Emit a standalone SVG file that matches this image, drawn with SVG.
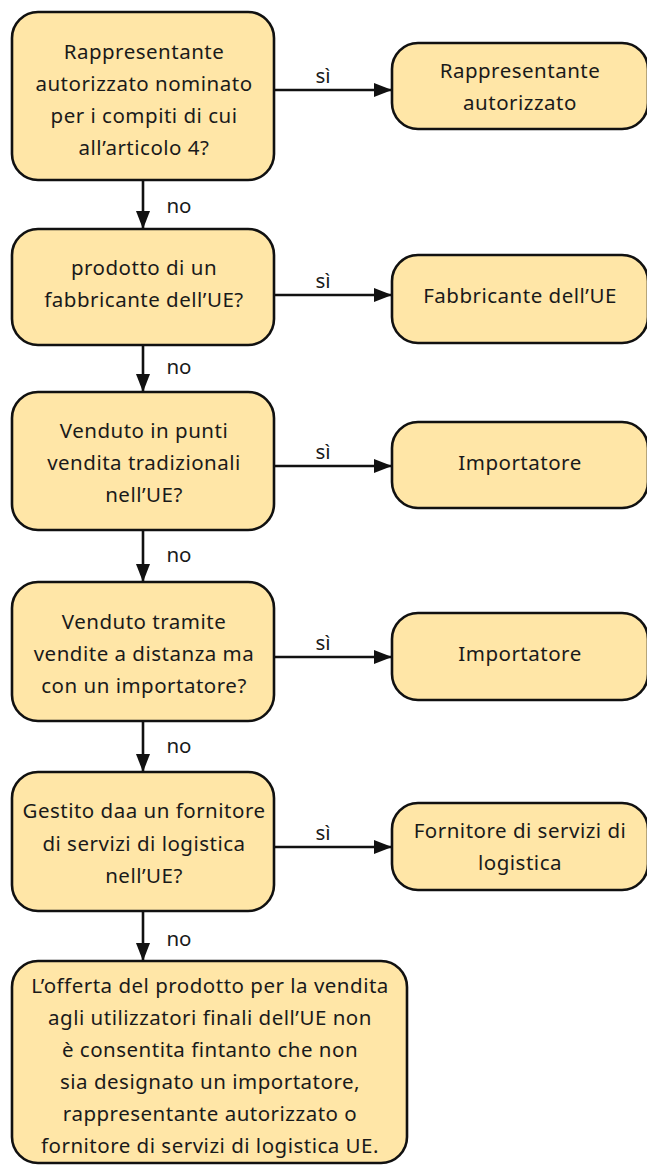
<svg xmlns="http://www.w3.org/2000/svg" width="647" height="1167" viewBox="0 0 647 1167">
<defs>
<style>
.box{fill:#FFE6A7;stroke:#111;stroke-width:2.6}
.t{font-family:"Noto Sans","DejaVu Sans",sans-serif;font-size:20.5px;fill:#1a1a1a;text-anchor:middle;letter-spacing:0.5px}
.lbl{font-family:"Noto Sans","DejaVu Sans",sans-serif;font-size:20.5px;fill:#1a1a1a;text-anchor:middle}
.c{stroke:#111;stroke-width:2.6;fill:none;marker-end:url(#ah)}
</style>
<marker id="ah" viewBox="0 0 18 14" refX="18" refY="7" markerWidth="18" markerHeight="14" markerUnits="userSpaceOnUse" orient="auto">
<path d="M0,0 L18,7 L0,14 Z" fill="#111"/>
</marker>
</defs>
<rect width="647" height="1167" fill="#fff"/>
<g id="connectors">
<line class="c" x1="274" y1="90" x2="392" y2="90"/>
<line class="c" x1="274" y1="295" x2="392" y2="295"/>
<line class="c" x1="274" y1="466" x2="392" y2="466"/>
<line class="c" x1="274" y1="657" x2="392" y2="657"/>
<line class="c" x1="274" y1="847" x2="392" y2="847"/>
<line class="c" x1="143" y1="180" x2="143" y2="229"/>
<line class="c" x1="143" y1="345" x2="143" y2="392"/>
<line class="c" x1="143" y1="530" x2="143" y2="582"/>
<line class="c" x1="143" y1="721" x2="143" y2="772"/>
<line class="c" x1="143" y1="911" x2="143" y2="961"/>
<text class="lbl" x="323" y="83">sì</text>
<text class="lbl" x="323" y="288">sì</text>
<text class="lbl" x="323" y="459">sì</text>
<text class="lbl" x="323" y="650">sì</text>
<text class="lbl" x="323" y="840">sì</text>
<text class="lbl" x="179" y="213">no</text>
<text class="lbl" x="179" y="374">no</text>
<text class="lbl" x="179" y="562">no</text>
<text class="lbl" x="179" y="753">no</text>
<text class="lbl" x="179" y="946">no</text>
</g>
<g id="q1">
<rect class="box" x="12" y="12" width="262" height="168" rx="26"/>
<text class="t" x="144" y="59">Rappresentante</text>
<text class="t" x="144" y="91">autorizzato nominato</text>
<text class="t" x="144" y="123">per i compiti di cui</text>
<text class="t" x="144" y="155">all’articolo 4?</text>
</g>
<g id="r1">
<rect class="box" x="392" y="43" width="256" height="86" rx="26"/>
<text class="t" x="520" y="78">Rappresentante</text>
<text class="t" x="520" y="110">autorizzato</text>
</g>
<g id="q2">
<rect class="box" x="12" y="229" width="262" height="116" rx="26"/>
<text class="t" x="144" y="275">prodotto di un</text>
<text class="t" x="144" y="307">fabbricante dell’UE?</text>
</g>
<g id="r2">
<rect class="box" x="392" y="255" width="256" height="88" rx="26"/>
<text class="t" x="520" y="303">Fabbricante dell’UE</text>
</g>
<g id="q3">
<rect class="box" x="12" y="392" width="262" height="138" rx="26"/>
<text class="t" x="144" y="438">Venduto in punti</text>
<text class="t" x="144" y="470">vendita tradizionali</text>
<text class="t" x="144" y="502">nell’UE?</text>
</g>
<g id="r3">
<rect class="box" x="392" y="422" width="256" height="86" rx="26"/>
<text class="t" x="520" y="470">Importatore</text>
</g>
<g id="q4">
<rect class="box" x="12" y="582" width="262" height="139" rx="26"/>
<text class="t" x="144" y="629">Venduto tramite</text>
<text class="t" x="144" y="661">vendite a distanza ma</text>
<text class="t" x="144" y="693">con un importatore?</text>
</g>
<g id="r4">
<rect class="box" x="392" y="613" width="256" height="87" rx="26"/>
<text class="t" x="520" y="661">Importatore</text>
</g>
<g id="q5">
<rect class="box" x="12" y="772" width="262" height="139" rx="26"/>
<text class="t" x="144" y="818">Gestito daa un fornitore</text>
<text class="t" x="144" y="851">di servizi di logistica</text>
<text class="t" x="144" y="883">nell’UE?</text>
</g>
<g id="r5">
<rect class="box" x="392" y="803" width="256" height="87" rx="26"/>
<text class="t" x="520" y="838">Fornitore di servizi di</text>
<text class="t" x="520" y="870">logistica</text>
</g>
<g id="end">
<rect class="box" x="12" y="961" width="395" height="202" rx="26"/>
<text class="t" x="210" y="993">L’offerta del prodotto per la vendita</text>
<text class="t" x="210" y="1025">agli utilizzatori finali dell’UE non</text>
<text class="t" x="210" y="1057">è consentita fintanto che non</text>
<text class="t" x="210" y="1089">sia designato un importatore,</text>
<text class="t" x="210" y="1121">rappresentante autorizzato o</text>
<text class="t" x="210" y="1153">fornitore di servizi di logistica UE.</text>
</g>
</svg>
